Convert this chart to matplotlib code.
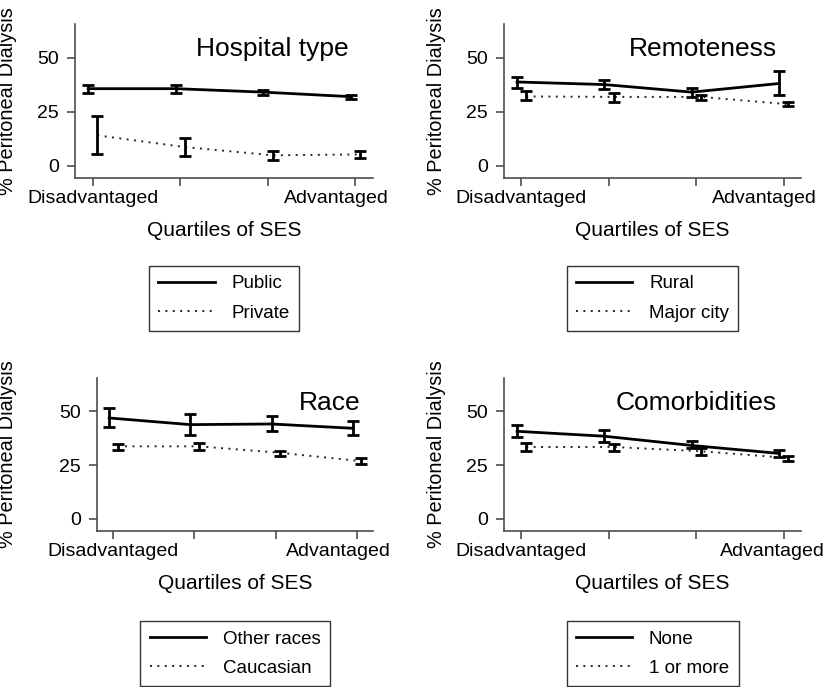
import numpy as np
import matplotlib
matplotlib.use("Agg")
import matplotlib.pyplot as plt
from matplotlib.transforms import ScaledTranslation, blended_transform_factory

plt.rcParams['font.family'] = ['Liberation Sans', 'DejaVu Sans']

W, H = 825, 687

quartiles = np.array([1, 2, 3, 4])
tick_labels = ['Disadvantaged', '', '', 'Advantaged']

titles = ['Hospital type', 'Remoteness', 'Race', 'Comorbidities']
solid_names = ['Public', 'Rural', 'Other races', 'None']
dot_names = ['Private', 'Major city', 'Caucasian', '1 or more']

# hospital type
public = [35.6, 35.6, 34.0, 31.9]
public_lo = [33.8, 33.8, 32.9, 30.7]
public_hi = [37.5, 37.2, 34.9, 32.9]
private = [14.0, 8.6, 4.8, 5.2]
private_lo = [5.6, 4.5, 2.8, 3.5]
private_hi = [22.8, 12.8, 6.8, 6.8]

# remoteness
rural = [38.7, 37.5, 34.0, 38.0]
rural_lo = [36.1, 35.6, 31.8, 32.6]
rural_hi = [41.0, 39.5, 36.1, 43.7]
city = [32.0, 31.8, 31.8, 28.4]
city_lo = [30.2, 29.6, 30.2, 27.5]
city_hi = [34.6, 33.8, 32.6, 29.5]

# race
other = [46.9, 43.8, 44.1, 42.1]
other_lo = [42.6, 39.2, 40.7, 39.0]
other_hi = [51.4, 48.8, 47.7, 45.5]
cauc = [33.7, 33.7, 30.7, 26.8]
cauc_lo = [32.2, 32.2, 29.4, 25.7]
cauc_hi = [35.0, 35.1, 31.6, 28.2]

# comorbidities
none = [40.7, 38.4, 34.1, 30.4]
none_lo = [37.9, 35.8, 32.7, 28.8]
none_hi = [43.8, 41.5, 36.4, 32.2]
more = [33.4, 33.4, 31.4, 28.3]
more_lo = [31.4, 31.4, 29.9, 27.1]
more_hi = [35.3, 34.8, 32.7, 29.4]

solid_series = [(public, public_lo, public_hi), (rural, rural_lo, rural_hi),
                (other, other_lo, other_hi), (none, none_lo, none_hi)]
dot_series = [(private, private_lo, private_hi), (city, city_lo, city_hi),
              (cauc, cauc_lo, cauc_hi), (more, more_lo, more_hi)]

# layout in pixels: left, top, right, bottom
boxes = [(75, 24, 373, 178), (504, 24, 801, 178), (97, 378, 373, 531), (504, 378, 801, 531)]
title_x = [3.92, 3.92, 4.05, 3.92]
adv_shift = [-19, -19, -18, -11]
ylab_x = [17.5, 446, 17.5, 446]
leg_top = [266, 266, 621, 621]

fig = plt.figure(figsize=(W / 100, H / 100), dpi=100)
dark = '0.15'
dots = (0, (1, 2.8))

for i in range(4):
    l, t, r, b = boxes[i]
    ax = fig.add_axes([l / W, 1 - b / H, (r - l) / W, (b - t) / H])

    y, lo, hi = [np.array(v) for v in solid_series[i]]
    ax.errorbar(quartiles - 0.05, y, yerr=[y - lo, hi - y], color='black', lw=2,
                elinewidth=2, capsize=4, capthick=2)
    y, lo, hi = [np.array(v) for v in dot_series[i]]
    ax.plot(quartiles + 0.055, y, color=dark, lw=1.4, linestyle=dots)
    ax.errorbar(quartiles + 0.055, y, yerr=[y - lo, hi - y], fmt='none', ecolor='black',
                elinewidth=2, capsize=4, capthick=2)

    ax.set_xlim(0.8, 4.2)
    ax.set_ylim(-5.7, 65.5)
    ax.set_yticks([0, 25, 50])
    ax.set_xticks(quartiles)
    ax.set_xticklabels(tick_labels)
    for s in ['top', 'right']:
        ax.spines[s].set_visible(False)
    for s in ['left', 'bottom']:
        ax.spines[s].set_color('0.3')
        ax.spines[s].set_linewidth(1.2)
    ax.tick_params(axis='both', colors='0.3', labelcolor='black', labelsize=14,
                   length=5.5, width=1.2)
    ax.tick_params(axis='x', pad=3)
    ax.tick_params(axis='y', pad=6)
    lab = ax.get_xticklabels()[-1]
    lab.set_transform(lab.get_transform() + ScaledTranslation(adv_shift[i] / 100, 0, fig.dpi_scale_trans))

    ax.set_xlabel('Quartiles of SES', fontsize=15, labelpad=10)
    ax.set_ylabel('% Peritoneal Dialysis', fontsize=14.3)
    ax.yaxis.set_label_coords(ylab_x[i] / W, 0.5,
                              transform=blended_transform_factory(fig.transFigure, ax.transAxes))

    ax.text(title_x[i], 54, titles[i], fontsize=19, ha='right', va='center')

    h2 = [plt.Line2D([], [], color='black', lw=2),
          plt.Line2D([], [], color=dark, lw=1.4, linestyle=dots)]
    leg = fig.legend(h2, [solid_names[i], dot_names[i]], loc='upper center',
                     bbox_to_anchor=((l + r) / 2 / W, 1 - leg_top[i] / H),
                     fontsize=13.5, frameon=True, fancybox=False, framealpha=1,
                     edgecolor='0.2', handlelength=3, handletextpad=0.9,
                     borderpad=0.5, labelspacing=0.66, borderaxespad=0)
    leg.get_frame().set_linewidth(1)

fig.savefig('out.png', dpi=100)
